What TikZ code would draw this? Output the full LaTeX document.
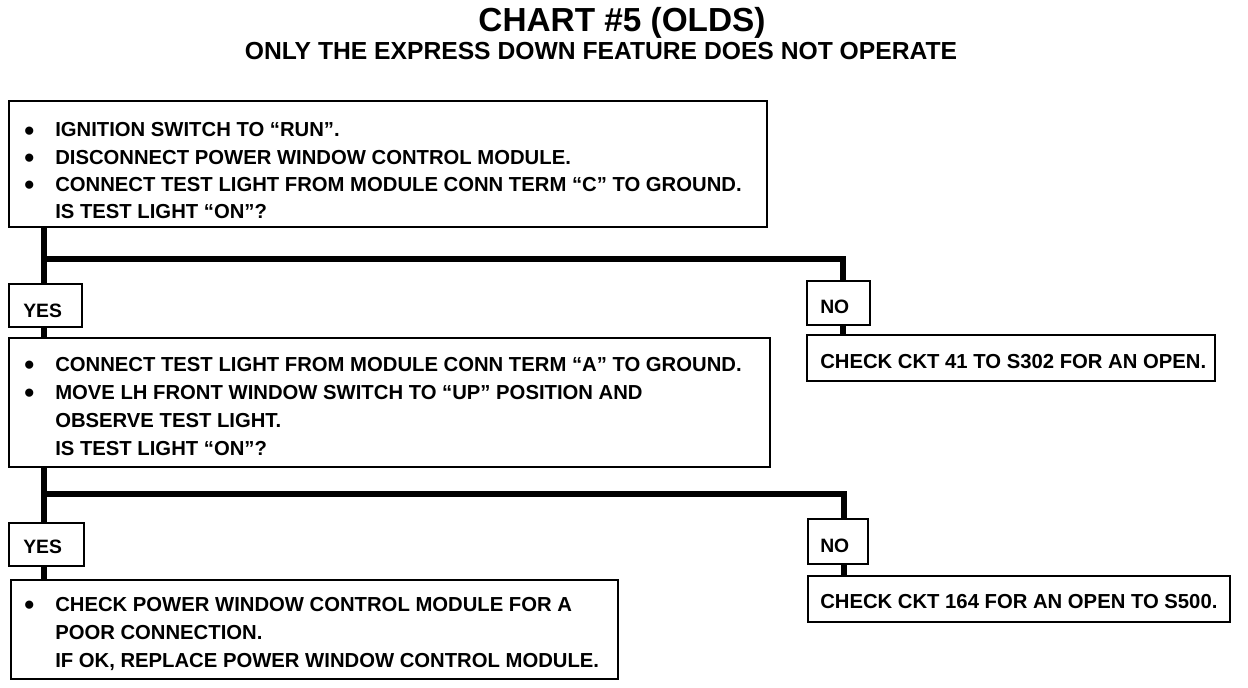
\documentclass[tikz,border=0pt]{standalone}
\usepackage{fontspec}
\setmainfont{Liberation Sans}
\usetikzlibrary{fit}
\newcommand{\bl}{\hspace*{3pt}\smash{\raisebox{-2.4pt}{\scalebox{1.4}{\textbullet}}}}
\begin{document}
\begin{tikzpicture}[x=0.75pt,y=-0.75pt,
  box/.style={draw, line width=1.9pt, rectangle, inner sep=0pt},
  conn/.style={line width=4.5pt, line join=miter},
  txt/.style={anchor=base west, inner sep=0pt},
  body/.style={font=\bfseries\fontsize{15.2}{19.7}\selectfont},
  lbl/.style={font=\bfseries\fontsize{14.5}{17}\selectfont}]
\useasboundingbox (0,0) rectangle (1248,688);

% titles
\node[anchor=base, inner sep=0pt, font=\bfseries\fontsize{25}{30}\selectfont] (title) at (622,32) {CHART \#5 (OLDS)};
\node[anchor=base, inner sep=0pt, font=\bfseries\fontsize{18.5}{22}\selectfont] (sub) at (601,60) {ONLY THE EXPRESS DOWN FEATURE DOES NOT OPERATE};

% boxes
\node[box, fit={(9,101) (767,227)}] (b1) {};
\node[box, fit={(9,284) (82,327)}] (yes1) {};
\node[box, fit={(807,281) (870,325)}] (no1) {};
\node[box, fit={(807,335) (1215,381)}] (r1) {};
\node[box, fit={(9,338) (770,467)}] (b2) {};
\node[box, fit={(9,523) (84,566)}] (yes2) {};
\node[box, fit={(808,519) (868,564)}] (no2) {};
\node[box, fit={(808,576) (1230,622)}] (r2) {};
\node[box, fit={(11,580) (618,679)}] (b3) {};

% connectors
\coordinate (j1) at (44,259);
\coordinate (k1) at (843,259);
\coordinate (j2) at (44,494);
\coordinate (k2) at (844,494);
\draw[conn] (b1.south -| j1) -- (yes1.north -| j1);
\draw[conn] (j1) -- (k1) -- (no1.north -| k1);
\draw[conn] (yes1.south -| j1) -- (b2.north -| j1);
\draw[conn] (no1.south -| k1) -- (r1.north -| k1);
\draw[conn] (b2.south -| j2) -- (yes2.north -| j2);
\draw[conn] (j2) -- (k2) -- (no2.north -| k2);
\draw[conn] (yes2.south -| j2) -- (b3.north -| j2);
\draw[conn] (no2.south -| k2) -- (r2.north -| k2);

% texts
\node[txt, body, font=\bfseries\fontsize{15.2}{20.5}\selectfont] (t1) at (20,137) {\begin{tabular}[t]{@{}p{26.25pt}@{}l@{}}
\bl & IGNITION SWITCH TO “RUN”.\\
\bl & DISCONNECT POWER WINDOW CONTROL MODULE.\\
\bl & CONNECT TEST LIGHT FROM MODULE CONN TERM “C” TO GROUND.\\
    & IS TEST LIGHT “ON”?
\end{tabular}};
\node[txt, lbl] (ty1) at (23,317) {YES};
\node[txt, lbl] (tn1) at (820,313) {NO};
\node[txt, body] (tr1) at (820,368) {CHECK CKT 41 TO S302 FOR AN OPEN.};
\node[txt, body, font=\bfseries\fontsize{15.2}{21}\selectfont] (t2) at (20,371) {\begin{tabular}[t]{@{}p{26.25pt}@{}l@{}}
\bl & CONNECT TEST LIGHT FROM MODULE CONN TERM “A” TO GROUND.\\
\bl & MOVE LH FRONT WINDOW SWITCH TO “UP” POSITION AND\\
    & OBSERVE TEST LIGHT.\\
    & IS TEST LIGHT “ON”?
\end{tabular}};
\node[txt, lbl] (ty2) at (23,553) {YES};
\node[txt, lbl] (tn2) at (820,552) {NO};
\node[txt, body] (tr2) at (820,608) {CHECK CKT 164 FOR AN OPEN TO S500.};
\node[txt, body, font=\bfseries\fontsize{15.2}{21}\selectfont] (t3) at (20,611) {\begin{tabular}[t]{@{}p{26.25pt}@{}l@{}}
\bl & CHECK POWER WINDOW CONTROL MODULE FOR A\\
    & POOR CONNECTION.\\
    & IF OK, REPLACE POWER WINDOW CONTROL MODULE.
\end{tabular}};
\end{tikzpicture}
\end{document}
